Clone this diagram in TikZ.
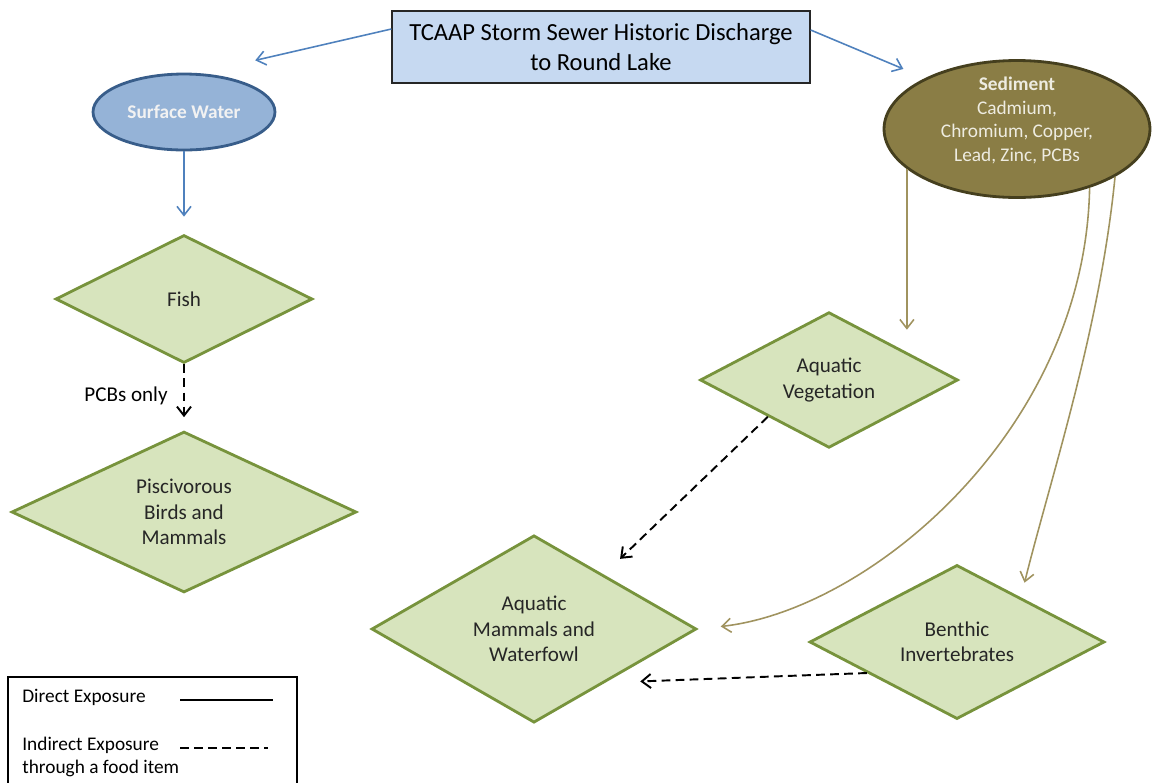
\documentclass[tikz,border=0pt]{standalone}
\usepackage{fontspec}
\setmainfont{Carlito}
\usepackage{xcolor}
\usetikzlibrary{
    shapes.geometric,
    arrows.meta,
    positioning
}

\definecolor{titlefill}{HTML}{C6D9F1}
\definecolor{swfill}{HTML}{95B3D7}
\definecolor{swdraw}{HTML}{385D8A}
\definecolor{swtext}{HTML}{F2F2F2}
\definecolor{sedfill}{HTML}{8A7D45}
\definecolor{seddraw}{HTML}{453F1E}
\definecolor{sedtext}{HTML}{EEECE1}
\definecolor{sedline}{HTML}{A0935F}
\definecolor{blueline}{HTML}{4F81BD}
\definecolor{recfill}{HTML}{D7E4BD}
\definecolor{recdraw}{HTML}{77933C}

\begin{document}
\begin{tikzpicture}[
    x=0.02cm, y=-0.02cm,
    source/.style={
        rectangle,
        draw=black!85,
        line width=0.8pt,
        fill=titlefill,
        font=\fontsize{14}{17}\selectfont,
        minimum width=8.36cm,
        minimum height=1.44cm,
        align=center
    },
    water/.style={
        ellipse,
        draw=swdraw,
        line width=1.6pt,
        fill=swfill,
        text=swtext,
        font=\fontsize{11}{13.5}\selectfont\bfseries,
        minimum width=3.64cm,
        minimum height=1.52cm
    },
    sediment/.style={
        ellipse,
        draw=seddraw,
        line width=1.6pt,
        fill=sedfill,
        text=sedtext,
        font=\fontsize{11}{13.5}\selectfont,
        minimum width=5.32cm,
        minimum height=2.74cm,
        inner sep=0pt,
        text height=44pt,
        text depth=7pt,
        align=center
    },
    receptor/.style={
        diamond,
        draw=recdraw,
        line width=1.6pt,
        fill=recfill,
        text=black!85,
        font=\fontsize{12}{14.4}\selectfont,
        inner sep=0pt,
        align=center
    },
    legendtext/.style={font=\fontsize{11}{13}\selectfont, inner sep=0pt, align=left},
    waterflow/.style={draw=blueline, line width=0.9pt, -{Straight Barb[length=1.8mm,width=2.8mm]}},
    sedflow/.style={draw=sedline, line width=0.9pt, -{Straight Barb[length=1.8mm,width=2.8mm]}},
    foodflow/.style={draw=black, line width=1.1pt, dash pattern=on 5pt off 3pt, -{Straight Barb[length=1.8mm,width=2.8mm]}}
]
\useasboundingbox (0,0) rectangle (1154,782);

% Source
\node[source] (src) at (601,47) {TCAAP Storm Sewer Historic Discharge\\to Round Lake};

% Media
\node[water] (sw) at (184,112) {Surface Water};
\node[sediment] (sed) at (1017,129) {\textbf{Sediment}\\Cadmium,\\Chromium, Copper,\\Lead, Zinc, PCBs};

% Receptors
\node[receptor, minimum width=5.14cm, minimum height=2.56cm] (fish) at (184,299) {Fish};
\node[receptor, minimum width=6.9cm, minimum height=3.02cm] (pisc) at (184,512) {Piscivorous\\Birds and\\Mammals};
\node[receptor, minimum width=5.16cm, minimum height=2.68cm] (veg) at (829,380) {Aquatic\\Vegetation};
\node[receptor, minimum width=6.5cm, minimum height=3.36cm] (mam) at (534,629) {Aquatic\\Mammals and\\Waterfowl};
\node[receptor, minimum width=5.9cm, minimum height=2.8cm] (ben) at (957,642) {Benthic\\Invertebrates};

% Release to media
\draw[waterflow, shorten >=1.14cm] ([yshift=0.36cm]src.west) -- (sw.68);
\draw[waterflow, shorten >=0.47cm] ([yshift=0.34cm]src.east) -- (sed.151);

% Surface water pathway
\draw[waterflow, shorten >=0.34cm] (sw) -- (fish);
\draw[foodflow, shorten >=0.26cm] (fish) -- (pisc);
\node[font=\fontsize{12}{14.4}\selectfont] (pcbs) at (126,396) {PCBs only};

% Sediment pathway
\draw[sedflow, shorten >=0.48cm] (sed.200) -- (sed.200 |- veg.18);
\draw[sedflow, shorten >=0.46cm] (sed.321) .. controls (1085,430) and (870,610) .. (mam.east);
\draw[sedflow, shorten >=0.3cm] (sed.334) .. controls (1100,330) and (1050,480) .. (ben.35);
\draw[foodflow, shorten >=0.45cm] (veg.211) -- (mam.38);
\draw[foodflow, shorten >=0.7cm] (ben.199) -- (mam.323);

% Legend
\draw[line width=0.8pt] (8,790) |- (297,677) -- (297,790);
\node[legendtext, anchor=west] (direct) at (22,697) {Direct Exposure};
\node[legendtext, anchor=west] (indirect) at (22,757) {Indirect Exposure\\through a food item};
\coordinate (dA) at (180,700);
\coordinate (dB) at (273,700);
\coordinate (iA) at (180,748);
\coordinate (iB) at (268,748);
\draw[line width=1.1pt] (dA) -- (dB);
\draw[line width=1.1pt, dash pattern=on 5pt off 3pt] (iA) -- (iB);

\end{tikzpicture}
\end{document}
